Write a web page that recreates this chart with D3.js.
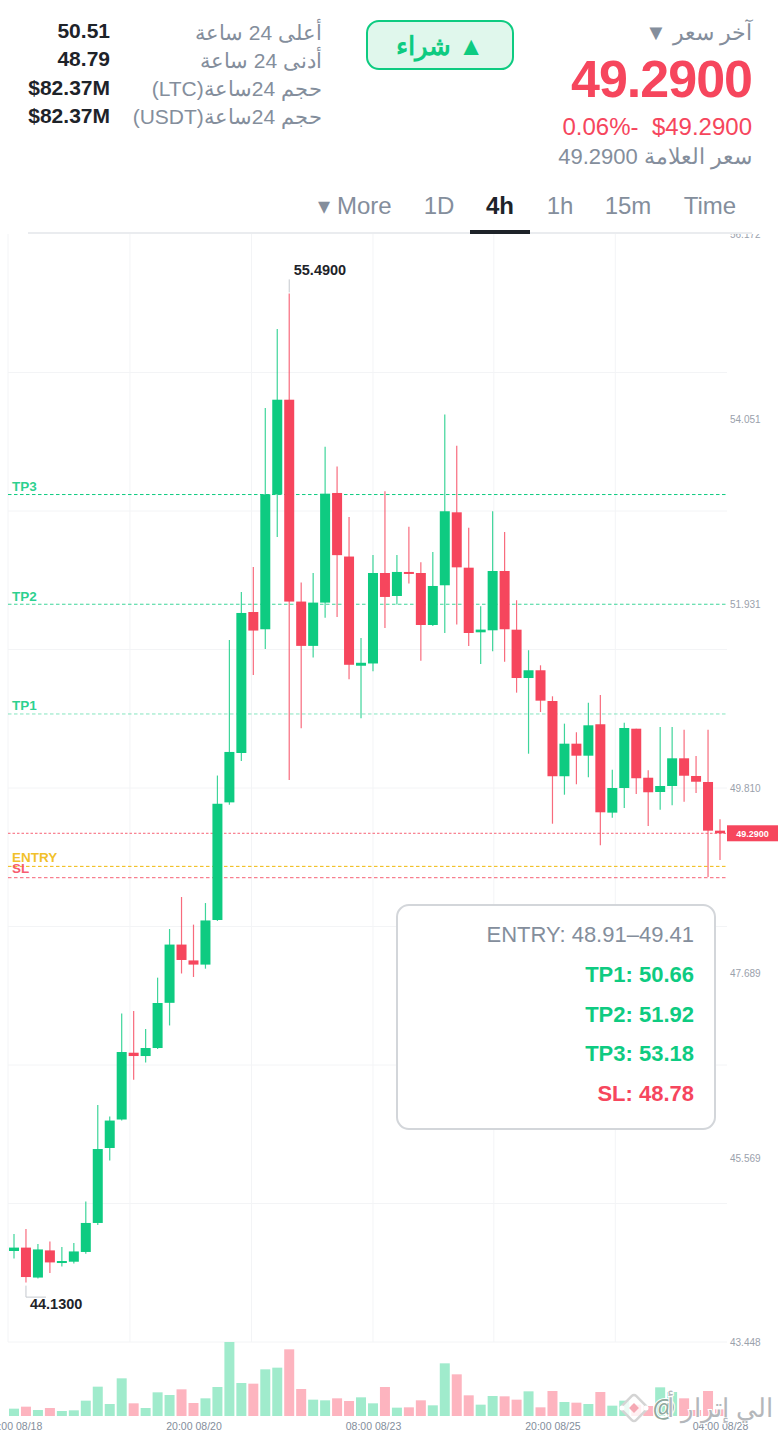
<!DOCTYPE html>
<html lang="ar">
<head>
<meta charset="utf-8">
<script src="https://cdn.jsdelivr.net/npm/d3@7"></script>
<style>
  html, body { margin: 0; padding: 0; background: #fff; }
  svg { display: block; font-family: "Liberation Sans", Arial, sans-serif; }
  .rtl { direction: rtl; }
  .axis path, .axis line { display: none; }
</style>
</head>
<body>
<svg id="chart" width="780" height="1434"></svg>
<script>
// candles, 4h
const opens  = [44.493,44.532,44.188,44.500,44.362,44.370,44.482,44.815,45.676,46.003,46.770,46.732,46.824,47.343,48.012,47.830,47.782,48.294,49.645,50.212,51.831,51.633,53.182,54.269,51.951,51.442,51.939,53.198,52.468,51.214,51.240,52.279,52.015,52.291,52.279,51.682,52.138,52.976,52.340,51.598,51.621,52.302,51.628,51.073,51.162,50.809,49.945,50.319,50.181,50.542,49.527,49.810,50.491,49.928,49.764,49.833,50.151,49.948,49.879,49.320];
const closes = [44.532,44.194,44.511,44.362,44.378,44.488,44.815,45.664,45.991,46.778,46.732,46.824,47.341,48.012,47.835,47.782,48.289,49.629,50.224,51.820,51.618,53.182,54.269,51.951,51.442,51.939,53.190,52.484,51.225,51.248,52.279,52.004,52.291,52.279,51.682,52.130,52.988,52.344,51.590,51.629,52.302,51.633,51.073,51.162,50.813,49.945,50.319,50.181,50.530,49.531,49.810,50.499,49.922,49.761,49.833,50.151,49.951,49.882,49.320,49.290];
const highs  = [44.688,44.746,44.573,44.603,44.539,44.585,45.062,46.170,46.039,47.220,47.249,47.042,47.632,48.191,48.558,48.241,48.489,49.953,51.510,52.061,52.348,54.174,55.081,55.490,52.169,52.279,53.730,53.501,52.922,51.533,52.486,53.218,52.486,52.810,52.402,52.520,54.099,53.741,52.798,51.897,52.988,52.750,51.966,51.392,51.219,50.863,50.549,50.450,50.790,50.878,50.020,50.560,50.491,50.013,50.511,50.511,50.480,50.178,50.480,49.451];
const lows   = [44.406,44.130,44.176,44.240,44.314,44.349,44.461,44.792,45.532,45.992,46.461,46.659,46.813,47.083,47.680,47.640,47.735,48.283,49.619,50.120,51.108,51.406,52.693,49.902,50.495,51.310,51.765,51.774,51.058,50.612,51.151,51.648,51.916,52.157,51.272,51.671,51.590,51.687,51.442,51.234,51.380,51.259,50.905,50.204,50.683,49.400,49.733,49.853,49.933,49.152,49.469,49.580,49.741,49.374,49.561,49.611,49.653,49.753,48.788,48.983];
const volumes = [22,28,18,24,15,17,46,88,36,113,38,24,71,63,80,39,53,87,222,99,97,140,145,200,81,49,47,53,45,56,38,87,25,26,47,32,158,125,62,34,60,59,49,74,26,75,42,40,36,72,31,46,34,30,86,72,53,18,75,20];

const priceTicks = [43.448,45.569,47.689,49.810,51.931,54.051,56.172];
const gridPrices = [43.448,45.039,46.629,48.220,49.810,51.401,52.991,54.582];
const gridSlots  = [-0.5,9.69,19.85,30,40.1,50.25];
const timeSlots  = [0,15,30,45,59];
const timeLabels = ["08:00 08/18","20:00 08/20","08:00 08/23","20:00 08/25","04:00 08/28"];

const levelNames  = ["TP3","TP2","TP1","ENTRY","SL"];
const levelPrices = [53.18,51.92,50.66,48.91,48.78];
const lastPrice = 49.29;
const highPrice = 55.49;
const lowPrice = 44.13;

const statLabels = ["أعلى 24 ساعة","أدنى 24 ساعة","حجم 24ساعة(LTC)","حجم 24ساعة(USDT)"];
const statValues = ["50.51","48.79","$82.37M","$82.37M"];
const tabNames = ["▾ More","1D","4h","1h","15m","Time"];
const boxLines = ["ENTRY: 48.91–49.41","TP1: 50.66","TP2: 51.92","TP3: 53.18","SL: 48.78"];

const green = "#0ecb81", red = "#f6465d", amber = "#f0b90b";
const dark = "#1e2329", grey = "#848e9c";

const svg = d3.select("#chart");

const x = d3.scaleLinear().domain([0, 59]).range([14, 720]);
const y = d3.scaleLinear().domain([43.448, 56.172]).range([1342, 234]);
const yVol = d3.scaleLinear().domain([0, 222]).range([1416, 1342]);
const barW = 10;
const plotL = 8, plotR = 727;

// ---- header ----
const statY = [39, 67, 95, 123];
const header = svg.append("g");

header.selectAll(".stat-value").data(statValues).enter().append("text")
    .attr("x", 110).attr("y", (d, i) => i < 2 ? statY[i] - 1 : statY[i] - 0.5)
    .attr("text-anchor", "end")
    .attr("font-size", 21).attr("font-weight", 700).attr("fill", dark)
    .text(d => d);

header.selectAll(".stat-label").data(statLabels).enter().append("text")
    .attr("class", "rtl")
    .attr("x", 322).attr("y", (d, i) => statY[i] + 1)
    .attr("text-anchor", "start")
    .attr("font-size", 21).attr("fill", grey)
    .text(d => d);

header.append("rect")
    .attr("x", 367).attr("y", 21).attr("width", 146).attr("height", 48).attr("rx", 12)
    .attr("fill", "#e0f7ec").attr("stroke", green).attr("stroke-width", 2);
header.append("text").attr("class", "rtl")
    .attr("x", 440).attr("y", 55).attr("text-anchor", "middle")
    .attr("font-size", 26).attr("font-weight", 700).attr("fill", green)
    .text("▲ شراء");

header.append("text").attr("class", "rtl")
    .attr("x", 752).attr("y", 40).attr("font-size", 22).attr("fill", grey)
    .text("آخر سعر ▼");
header.append("text")
    .attr("x", 752).attr("y", 97).attr("text-anchor", "end")
    .attr("font-size", 52).attr("font-weight", 700).attr("letter-spacing", -1).attr("fill", red)
    .text("49.2900");
header.append("text").attr("class", "rtl")
    .attr("x", 752).attr("y", 135).attr("font-size", 24).attr("fill", red)
    .attr("xml:space", "preserve").style("white-space", "pre")
    .text("$49.2900  -0.06%");
header.append("text").attr("class", "rtl")
    .attr("x", 752).attr("y", 164).attr("font-size", 22).attr("fill", grey)
    .text("سعر العلامة 49.2900");

// tabs
const tabX = [355, 439, 500, 560, 628, 710];
header.selectAll(".tab").data(tabNames).enter().append("text")
    .attr("x", (d, i) => tabX[i]).attr("y", 214)
    .attr("text-anchor", "middle")
    .attr("font-size", 24)
    .attr("font-weight", d => d === "4h" ? 700 : 400)
    .attr("fill", d => d === "4h" ? dark : grey)
    .text(d => d);
header.append("rect").attr("x", 28).attr("y", 232).attr("width", 724).attr("height", 2).attr("fill", "#eaecef");
header.append("rect").attr("x", 470).attr("y", 230).attr("width", 60).attr("height", 4).attr("fill", dark);

// ---- grid ----
const grid = svg.append("g").attr("stroke", "#f3f4f6").attr("stroke-width", 1);
grid.selectAll(".h").data(gridPrices).enter().append("line")
    .attr("x1", plotL).attr("x2", plotR)
    .attr("y1", d => y(d)).attr("y2", d => y(d));
grid.selectAll(".v").data(gridSlots).enter().append("line")
    .attr("x1", d => x(d)).attr("x2", d => x(d))
    .attr("y1", 234).attr("y2", 1342);

// ---- axes ----
svg.append("clipPath").attr("id", "axis-clip").append("rect")
    .attr("x", 720).attr("y", 234).attr("width", 60).attr("height", 1200);
svg.append("g").attr("class", "axis").attr("clip-path", "url(#axis-clip)")
    .append("g")
    .attr("transform", `translate(${plotR},0.5)`)
    .call(d3.axisRight(y).tickValues(priceTicks).tickSize(0).tickPadding(3).tickFormat(d3.format(".3f")))
    .selectAll("text").attr("font-size", 10).attr("font-family", "Liberation Sans").attr("fill", "#9aa1ac");

const xAxis = svg.append("g").attr("class", "axis")
    .attr("transform", "translate(0,1423)")
    .call(d3.axisBottom(x).tickValues(timeSlots).tickSize(0).tickPadding(0)
        .tickFormat((d, i) => timeLabels[i]));
xAxis.selectAll("text").attr("font-size", 10.5).attr("font-family", "Liberation Sans").attr("fill", grey);

// ---- volume ----
svg.append("g").selectAll("rect").data(volumes).enter().append("rect")
    .attr("x", (d, i) => x(i) - barW / 2)
    .attr("width", barW)
    .attr("y", d => yVol(d))
    .attr("height", d => yVol(0) - yVol(d))
    .attr("fill", (d, i) => closes[i] >= opens[i] ? "#a0ebcc" : "#fdb4bf");

// ---- level lines ----
const levelColors = [green, green, green, amber, red];
const levelOpacity = [1, 0.8, 0.5, 1, 0.85];
const levels = svg.append("g");
levels.selectAll("line").data(levelPrices).enter().append("line")
    .attr("x1", plotL).attr("x2", plotR)
    .attr("y1", d => y(d)).attr("y2", d => y(d))
    .attr("stroke", (d, i) => levelColors[i])
    .attr("stroke-opacity", (d, i) => levelOpacity[i])
    .attr("stroke-width", 1)
    .attr("stroke-dasharray", "3.5,2.5");
levels.selectAll("text").data(levelNames).enter().append("text")
    .attr("x", 12)
    .attr("y", (d, i) => d === "ENTRY" ? y(levelPrices[i]) - 4 : d === "SL" ? y(levelPrices[i]) - 4.5 : y(levelPrices[i]) - 3.5)
    .attr("font-size", 13.5).attr("font-weight", 700)
    .attr("fill", (d, i) => levelColors[i]).attr("fill-opacity", 0.9)
    .text(d => d);

levels.append("line")
    .attr("x1", plotL).attr("x2", plotR)
    .attr("y1", y(lastPrice)).attr("y2", y(lastPrice))
    .attr("stroke", red).attr("stroke-opacity", 0.85).attr("stroke-dasharray", "2.5,2");

// ---- candles ----
const candle = svg.append("g").selectAll("g").data(opens).enter().append("g")
    .attr("fill", (d, i) => closes[i] >= d ? green : red)
    .attr("stroke", (d, i) => closes[i] >= d ? green : red);
candle.append("line")
    .attr("x1", (d, i) => x(i)).attr("x2", (d, i) => x(i))
    .attr("y1", (d, i) => y(highs[i])).attr("y2", (d, i) => y(lows[i]))
    .attr("stroke-width", 1.2).attr("stroke-opacity", 0.8);
candle.append("rect")
    .attr("x", (d, i) => x(i) - barW / 2)
    .attr("width", barW)
    .attr("y", (d, i) => y(Math.max(d, closes[i])))
    .attr("height", (d, i) => Math.max(2, Math.abs(y(d) - y(closes[i]))))
    .attr("stroke", "none");

// ---- high / low notes ----
const noteStroke = "#c4c8ce";
svg.append("path")
    .attr("d", `M${x(23)},${y(highPrice) - 14}V${y(highPrice) - 1}`)
    .attr("stroke", noteStroke).attr("fill", "none");
svg.append("text").attr("x", x(23) + 4.5).attr("y", y(highPrice) - 18)
    .attr("font-size", 14.5).attr("font-weight", 700).attr("fill", dark)
    .text(highPrice.toFixed(4));
svg.append("path")
    .attr("d", `M${x(1)},${y(lowPrice) + 3}V${y(lowPrice) + 14.5}H${x(1) + 20}`)
    .attr("stroke", noteStroke).attr("fill", "none");
svg.append("text").attr("x", x(1) + 4).attr("y", y(lowPrice) + 26.5)
    .attr("font-size", 14.5).attr("font-weight", 700).attr("fill", dark)
    .text(lowPrice.toFixed(4));

// ---- last price tag ----
svg.append("rect").attr("x", 727).attr("y", y(lastPrice) - 8).attr("width", 51).attr("height", 16).attr("fill", red);
svg.append("text").attr("x", 752.5).attr("y", y(lastPrice) + 4)
    .attr("text-anchor", "middle").attr("font-size", 9).attr("font-weight", 700).attr("fill", "#fff")
    .text(lastPrice.toFixed(4));

// ---- info box ----
svg.append("rect")
    .attr("x", 397).attr("y", 905).attr("width", 318).attr("height", 224).attr("rx", 12)
    .attr("fill", "#fff").attr("fill-opacity", 0.96)
    .attr("stroke", "#d3d6da").attr("stroke-width", 2);
const boxY = [942, 982, 1022, 1061, 1101];
const boxColors = [grey, green, green, green, red];
svg.append("g").selectAll("text").data(boxLines).enter().append("text")
    .attr("x", 694).attr("y", (d, i) => boxY[i])
    .attr("text-anchor", "end")
    .attr("font-size", 22)
    .attr("font-weight", (d, i) => i === 0 ? 400 : 700)
    .attr("fill", (d, i) => boxColors[i])
    .text(d => d);

// ---- watermark ----
const mark = svg.append("g").attr("transform", "translate(634,1408)");
mark.append("rect").attr("x", -10).attr("y", -10).attr("width", 20).attr("height", 20).attr("rx", 3)
    .attr("transform", "rotate(45)")
    .attr("fill", "#fff").attr("fill-opacity", 0.8).attr("stroke", "#d4d4d4").attr("stroke-width", 2.5);
mark.append("rect").attr("x", -3.5).attr("y", -3.5).attr("width", 7).attr("height", 7)
    .attr("transform", "rotate(45)").attr("fill", "#f5a9b4");
mark.selectAll("circle").data([-12, 12]).enter().append("circle")
    .attr("cx", d => d).attr("r", 2.5).attr("fill", "#fff");
svg.append("text").attr("x", 664).attr("y", 1416).attr("text-anchor", "middle")
    .attr("font-size", 23).attr("font-weight", 700).attr("fill", "#8fa89d")
    .attr("stroke", "#fff").attr("stroke-width", 2).style("paint-order", "stroke")
    .text("@");
svg.append("text").attr("class", "rtl")
    .attr("x", 773).attr("y", 1417)
    .attr("font-size", 26).attr("letter-spacing", 4).attr("fill", "#b4b7bb")
    .attr("stroke", "#fff").attr("stroke-width", 2).style("paint-order", "stroke")
    .text("الي إترار أ");
</script>
</body>
</html>
